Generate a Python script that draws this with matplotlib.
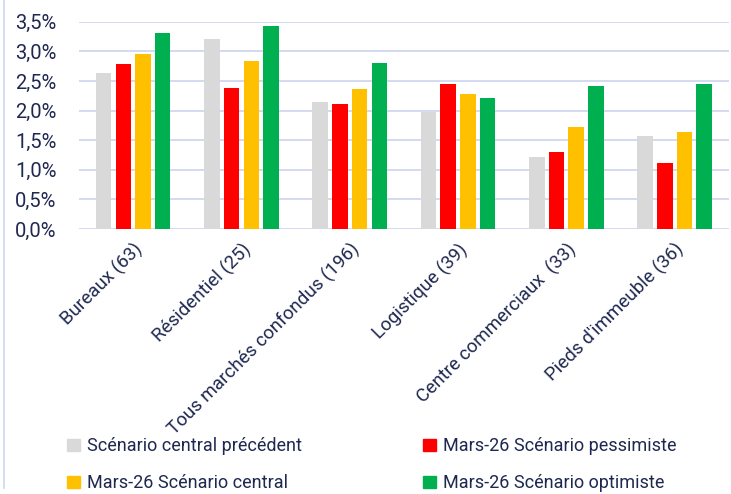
import matplotlib
matplotlib.use("Agg")
import matplotlib.pyplot as plt
import numpy as np
from matplotlib.patches import Patch
from matplotlib.lines import Line2D

categories = ["Bureaux (63)", "Résidentiel (25)", "Tous marchés confondus (196)",
              "Logistique (39)", "Centre commerciaux  (33)", "Pieds d'immeuble (36)"]
series_names = ["Scénario central précédent", "Mars-26 Scénario pessimiste",
                "Mars-26 Scénario central", "Mars-26 Scénario optimiste"]
central_precedent = [2.64, 3.21, 2.14, 1.97, 1.22, 1.57]
pessimiste = [2.78, 2.38, 2.11, 2.44, 1.30, 1.11]
central = [2.95, 2.84, 2.36, 2.28, 1.73, 1.64]
optimiste = [3.31, 3.42, 2.80, 2.22, 2.42, 2.45]
colors = ["#D9D9D9", "#FF0000", "#FFC000", "#00B050"]
yticks = [0.0, 0.5, 1.0, 1.5, 2.0, 2.5, 3.0, 3.5]
ytick_labels = ["0,0%", "0,5%", "1,0%", "1,5%", "2,0%", "2,5%", "3,0%", "3,5%"]

plt.rcParams['font.family'] = ['Roboto', 'DejaVu Sans']
txt = "#1F2850"

fig = plt.figure(figsize=(7.31, 4.94), dpi=100)
ax = fig.add_axes([0.108, 0.5364, 0.889, 0.4197])

data = [central_precedent, pessimiste, central, optimiste]
x = np.arange(len(categories))
slot = 0.182
width = 0.143
for i, (vals, c) in enumerate(zip(data, colors)):
    ax.bar(x + (i - 1.5) * slot, vals, width=width, color=c, zorder=3)

ax.set_xlim(-0.5, len(categories) - 0.5)
ax.set_ylim(0, 3.5)
ax.set_yticks(yticks)
ax.set_yticklabels(ytick_labels, fontsize=14.5, color=txt)
ax.set_xticks(x)
ax.set_xticklabels(categories, rotation=45, ha="right", rotation_mode="anchor",
                   fontsize=13.5, color=txt)
ax.tick_params(axis="both", length=0)
ax.tick_params(axis="y", pad=16)
ax.tick_params(axis="x", pad=8)
for s in ax.spines.values():
    s.set_visible(False)
ax.grid(axis="y", color="#D0D7EE", linewidth=1.3, zorder=0)
ax.set_axisbelow(True)

# left frame line
fig.add_artist(Line2D([0.0055, 0.0055], [0.012, 1.0], transform=fig.transFigure,
                      color="#C9D8F0", linewidth=1.2))

handles = [Patch(color=colors[0]), Patch(color=colors[2]),
           Patch(color=colors[1]), Patch(color=colors[3])]
labels = [series_names[0], series_names[2], series_names[1], series_names[3]]
fig.legend(handles, labels, loc="upper left", bbox_to_anchor=(0.082, 0.129),
           ncol=2, frameon=False, fontsize=13, labelcolor=txt,
           handlelength=0.7, handleheight=0.7, handletextpad=0.4,
           columnspacing=6.7, labelspacing=1.05, borderaxespad=0)

fig.savefig("out.png", dpi=100)
